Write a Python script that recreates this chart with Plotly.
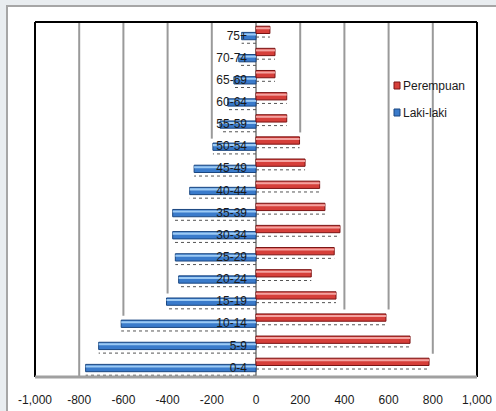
import plotly.graph_objects as go

# Age groups, bottom to top
age_groups = ["0-4", "5-9", "10-14", "15-19", "20-24", "25-29", "30-34", "35-39",
              "40-44", "45-49", "50-54", "55-59", "60-64", "65-69", "70-74", "75+"]
laki_laki = [-771, -712, -610, -405, -350, -365, -377, -377,
             -300, -280, -195, -163, -128, -100, -78, -65]
perempuan = [783, 697, 588, 362, 250, 354, 380, 312,
             288, 222, 197, 139, 139, 86, 86, 63]
x_ticks = [-1000, -800, -600, -400, -200, 0, 200, 400, 600, 800, 1000]
x_tick_text = ["-1,000", "-800", "-600", "-400", "-200", "0", "200", "400", "600", "800", "1,000"]

FONT = "Liberation Sans Narrow, Liberation Sans, Arial, sans-serif"
W, H = 496, 411
ML, MR, MT, MB = 35, 19, 22, 34
PW, PH = W - ML - MR, H - MT - MB

BAR_W = 0.33
OFF_F = 0.09      # female bar sits in the upper half of the slot
OFF_M = -0.19     # male bar just below the category centre
Y_RANGE = [-0.43, 15.61]

idx = list(range(len(age_groups)))


def px_x(p):
    return (p - ML) / PW


def px_y(p):
    return (H - MB - p) / PH


fig = go.Figure()


def add_series(vals, off, base_col, edge_col, hi_col):
    # main body of the bar
    fig.add_trace(go.Bar(
        y=idx, x=vals, orientation="h", width=BAR_W, offset=off,
        marker=dict(color=base_col, line=dict(color=edge_col, width=1)),
        showlegend=False, hoverinfo="x"))
    # light highlight strip for a rounded look
    fig.add_trace(go.Bar(
        y=idx, x=vals, orientation="h", width=BAR_W * 0.28, offset=off + BAR_W * 0.58,
        marker=dict(color=hi_col, line=dict(width=0)),
        showlegend=False, hoverinfo="skip"))
    # dotted shadow beneath each bar
    xs, ys = [], []
    for i, v in zip(idx, vals):
        xs += [0, v, None]
        ys += [i + off - 0.16, i + off - 0.16, None]
    fig.add_trace(go.Scatter(
        x=xs, y=ys, mode="lines", line=dict(color="#555555", width=1, dash="dot"),
        showlegend=False, hoverinfo="skip"))


add_series(laki_laki, OFF_M, "#3A7BCB", "#1B4780", "#9CCAF4")
add_series(perempuan, OFF_F, "#D63F3A", "#7A1414", "#F4A3A0")

shapes = []

# chart area: white panel with grey frame on a pale background
shapes.append(dict(type="rect", xref="paper", yref="paper",
                   x0=px_x(7), x1=px_x(W + 20), y0=px_y(H + 20), y1=px_y(6),
                   fillcolor="white", line=dict(color="#A6A6A6", width=2), layer="below"))

# vertical gridlines, hidden behind the first bar that reaches them
top_y = Y_RANGE[1]
for g in x_ticks:
    if g in (-1000, 0, 1000):
        continue
    vals, off = (perempuan, OFF_F) if g > 0 else (laki_laki, OFF_M)
    end_y = Y_RANGE[0]
    for i in reversed(idx):
        if abs(vals[i]) >= abs(g) - 18:
            end_y = i + off + BAR_W + 0.2
            break
    shapes.append(dict(type="line", xref="x", yref="y", x0=g, x1=g, y0=end_y, y1=top_y,
                       line=dict(color="#9A9A9A", width=2), layer="below"))

# zero line
shapes.append(dict(type="line", xref="x", yref="y", x0=0, x1=0, y0=Y_RANGE[0], y1=Y_RANGE[1],
                   line=dict(color="#9A9A9A", width=2), layer="below"))

# plot wall border: dark sides and top, grey floor
shapes += [
    dict(type="line", xref="paper", yref="paper", x0=0, x1=1, y0=1, y1=1,
         line=dict(color="black", width=2)),
    dict(type="line", xref="paper", yref="paper", x0=0, x1=0, y0=0, y1=1,
         line=dict(color="black", width=2)),
    dict(type="line", xref="paper", yref="paper", x0=1, x1=1, y0=0, y1=1,
         line=dict(color="black", width=2)),
    dict(type="line", xref="paper", yref="paper", x0=0, x1=1, y0=0, y1=0,
         line=dict(color="#A0A0A0", width=3)),
]

# legend keys
shapes += [
    dict(type="rect", xref="paper", yref="paper", x0=px_x(394), x1=px_x(400),
         y0=px_y(89), y1=px_y(82), fillcolor="#D63F3A", line=dict(color="#7A1414", width=1)),
    dict(type="rect", xref="paper", yref="paper", x0=px_x(394), x1=px_x(400),
         y0=px_y(116), y1=px_y(109), fillcolor="#3A7BCB", line=dict(color="#1B4780", width=1)),
]

annotations = [
    dict(xref="paper", yref="paper", x=px_x(401), y=px_y(86), text="Perempuan",
         showarrow=False, xanchor="left", yanchor="middle",
         font=dict(family=FONT, size=12, color="#1A1A1A")),
    dict(xref="paper", yref="paper", x=px_x(401), y=px_y(113), text="Laki-laki",
         showarrow=False, xanchor="left", yanchor="middle",
         font=dict(family=FONT, size=12, color="#1A1A1A")),
]

fig.update_layout(
    width=W, height=H,
    margin=dict(l=ML, r=MR, t=MT, b=MB, pad=0),
    paper_bgcolor="#E9EDF0", plot_bgcolor="white",
    barmode="overlay",
    shapes=shapes, annotations=annotations,
    showlegend=False,
    xaxis=dict(range=[-1000, 1000], tickvals=x_ticks, ticktext=x_tick_text,
               showgrid=False, zeroline=False, showline=False, ticks="",
               ticklabelstandoff=14, automargin=False,
               tickfont=dict(family=FONT, size=12, color="#1A1A1A")),
    yaxis=dict(range=Y_RANGE, tickvals=idx, ticktext=age_groups,
               anchor="free", position=0.5, automargin=False,
               showgrid=False, zeroline=False, showline=False, ticks="",
               ticklabelstandoff=9,
               tickfont=dict(family=FONT, size=12, color="#1A1A1A")),
)

fig.write_html("out.html")
